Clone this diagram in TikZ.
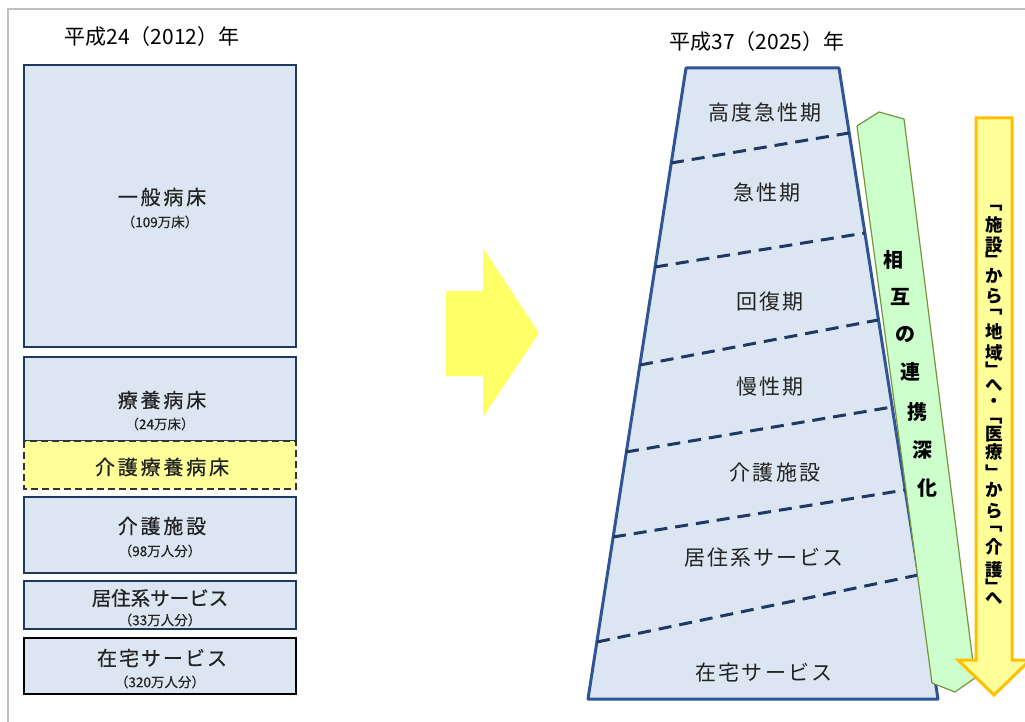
\documentclass[tikz,border=0pt]{standalone}
\usepackage{fontspec}
\setmainfont{Noto Sans CJK JP}
\definecolor{boxfill}{HTML}{DCE6F2}
\definecolor{navy}{HTML}{1F3A60}
\definecolor{trapline}{HTML}{2F5596}
\definecolor{dashc}{HTML}{1F3864}
\definecolor{kyel}{HTML}{FFFF99}
\definecolor{midyel}{HTML}{FFFF66}
\definecolor{gfill}{HTML}{CCFFCC}
\definecolor{gline}{HTML}{77933C}
\definecolor{orangeline}{HTML}{FFC000}
\definecolor{framegray}{HTML}{BFBFBF}
\definecolor{txtc}{HTML}{222222}
\tikzset{
  boxs/.style={draw=navy, fill=boxfill, line width=1.8pt},
  kaigobox/.style={draw=black!80, fill=kyel, line width=1.6pt, dash pattern=on 7pt off 4pt},
  lbl/.style={font=\fontsize{20pt}{24pt}\selectfont\addfontfeature{LetterSpace=14,FakeBold=0.6}, text=txtc, inner sep=0pt},
  sublbl/.style={font=\fontsize{13.5pt}{16pt}\selectfont\addfontfeature{FakeBold=0.4}, text=txtc, inner sep=0pt},
  titlelbl/.style={font=\fontsize{21pt}{25pt}\selectfont, text=black, inner sep=0pt},
  trap/.style={draw=trapline, fill=boxfill, line width=3pt, line join=round},
  divline/.style={draw=dashc, line width=3pt, dash pattern=on 13pt off 8pt},
  tlbl/.style={font=\fontsize{21pt}{25pt}\selectfont\addfontfeature{LetterSpace=10}, text=txtc, inner sep=0pt},
  gband/.style={draw=gline, fill=gfill, line width=1.2pt},
  gtxt/.style={font=\fontsize{20pt}{24pt}\selectfont\bfseries, text=black, inner sep=0pt},
  downarr/.style={draw=orangeline, fill=kyel, line width=3pt},
  vtxt/.style={font=\fontsize{17.5pt}{20pt}\selectfont\bfseries, text=black, inner sep=0pt},
  midarr/.style={fill=midyel}
}
\begin{document}
\begin{tikzpicture}[x=1pt,y=-1pt]
\useasboundingbox (0,0) rectangle (1025,722);
\fill[white] (0,0) rectangle (1025,722);
% frame
\draw[framegray, line width=1.6pt] (8,722) -- (8,9) -- (1025,9);

% left titles and boxes
\node[titlelbl] (t1) at (152,37) {平成24（2012）年};

\draw[boxs] (24,65) rectangle (296,347);
\node[lbl] (b1a) at (162,197) {一般病床};
\node[sublbl] (b1b) at (160,222) {（109万床）};

\draw[boxs] (24,357) rectangle (296,441);
\node[lbl] (b2a) at (162,400) {療養病床};
\node[sublbl] (b2b) at (160,424) {（24万床）};

\draw[kaigobox] (24,441) rectangle (296,489);
\node[lbl] (b2c) at (162,467) {介護療養病床};

\draw[boxs] (24,497) rectangle (296,573);
\node[lbl] (b3a) at (162,526) {介護施設};
\node[sublbl] (b3b) at (160,551) {（98万人分）};

\draw[boxs] (24,581) rectangle (296,629);
\node[lbl, font=\fontsize{19.5pt}{23pt}\selectfont\addfontfeature{FakeBold=0.6}] (b4a) at (160,598) {居住系サービス};
\node[sublbl] (b4b) at (160,620) {（33万人分）};

\draw[boxs, draw=black] (24,638) rectangle (296,694);
\node[lbl, font=\fontsize{20pt}{24pt}\selectfont\addfontfeature{LetterSpace=10,FakeBold=0.6}] (b5a) at (162,658) {在宅サービス};
\node[sublbl] (b5b) at (160,682) {（320万人分）};

% middle arrow
\fill[midarr] (446,291) -- (483,291) -- (483,248) -- (539,333) -- (483,417) -- (483,376) -- (446,376) -- cycle;

% right title
\node[titlelbl] (t2) at (757,42) {平成37（2025）年};

% trapezoid
\draw[trap] (686,68) -- (839,68) -- (938,699) -- (588,699) -- cycle;
\draw[divline] (671,163) -- (849,133);
\draw[divline] (655,267) -- (865,233);
\draw[divline] (640,365) -- (878,320);
\draw[divline] (626,452) -- (892,407);
\draw[divline] (613,537) -- (905,490);
\draw[divline] (597,642) -- (918,575);

\node[tlbl] (r1) at (765,113) {高度急性期};
\node[tlbl] (r2) at (767,193) {急性期};
\node[tlbl] (r3) at (770,302) {回復期};
\node[tlbl] (r4) at (770,387) {慢性期};
\node[tlbl] (r5) at (775,473) {介護施設};
\node[tlbl] (r6) at (764,558) {居住系サービス};
\node[tlbl] (r7) at (764,672) {在宅サービス};

% green band
\draw[gband] (857,126) -- (879,112) -- (904,119) -- (975,678) -- (955,692) -- (932,683) -- cycle;
\foreach \ch/\xx/\yy [count=\k] in {相/893/260, 互/900/297, の/905/334, 連/910/372, 携/917/412, 深/922/450, 化/927/488}
  \node[gtxt] (g\k) at (\xx,\yy) {\ch};

% down arrow
\draw[downarr] (976,118) -- (1012,118) -- (1012,660) -- (1030,660) -- (994,695) -- (958,660) -- (976,660) -- cycle;
\foreach \ch/\yy [count=\k] in {﹁/208, 施/225, 設/245, ﹂/259, か/276, ら/296, ﹁/312, 地/332, 域/353, ﹂/369, へ/385, ・/403, ﹁/421, 医/434, 療/452, ﹂/472, か/490, ら/511, ﹁/529, 介/547, 護/570, ﹂/586, へ/598}
  \node[vtxt] (v\k) at (994,\yy) {\ch};
\end{tikzpicture}
\end{document}
